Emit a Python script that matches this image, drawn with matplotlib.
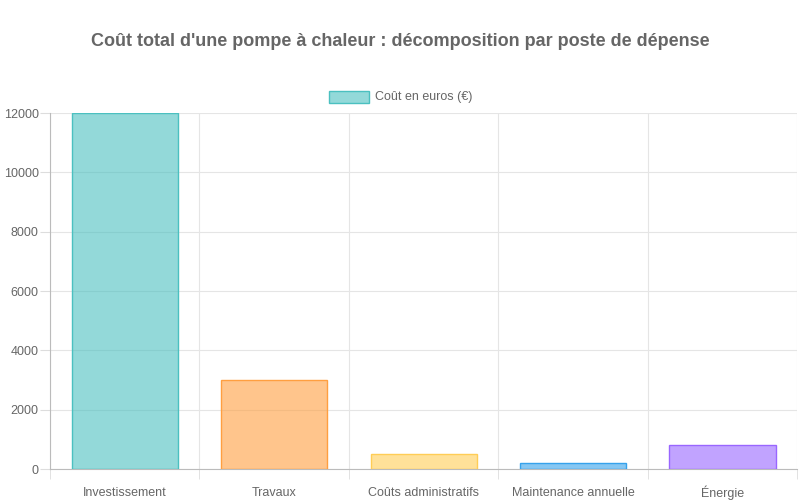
import matplotlib
matplotlib.use("Agg")
import matplotlib.pyplot as plt

categories = ["Investissement", "Travaux", "Coûts administratifs", "Maintenance annuelle", "Énergie"]
values = [12000, 3000, 500, 200, 800]
fills = [(75/255,192/255,192/255,0.6),(255/255,159/255,64/255,0.6),(255/255,205/255,86/255,0.6),(54/255,162/255,235/255,0.6),(153/255,102/255,255/255,0.6)]
edges = [(75/255,192/255,192/255),(255/255,159/255,64/255),(255/255,205/255,86/255),(54/255,162/255,235/255),(153/255,102/255,255/255)]

plt.rcParams['font.family'] = ['Liberation Sans', 'DejaVu Sans']
fig = plt.figure(figsize=(8, 5), dpi=100)
ax = fig.add_axes([0.0625, 0.062, 0.934, 0.712])
x = list(range(len(categories)))
ax.bar(x, values, width=0.71, color=fills, edgecolor=edges, linewidth=1.0, zorder=3)
ax.set_xlim(-0.5, len(categories) - 0.5)
ax.set_ylim(0, 12000)
ax.set_yticks(range(0, 12001, 2000))
ax.set_xticks(x)
ax.set_xticklabels(categories)
for lbl in ax.get_xticklabels():
    lbl.set_verticalalignment('center')
ax.set_xticks([i - 0.5 for i in range(len(categories) + 1)], minor=True)
ax.tick_params(axis='x', which='major', length=0, pad=17, labelsize=9, labelcolor='#666666')
ax.tick_params(axis='x', which='minor', length=7.2, color='#dddddd')
ax.tick_params(axis='y', length=7.2, color='#dddddd', labelsize=9, labelcolor='#666666', pad=1)
ax.grid(True, axis='y', color='#e5e5e5', linewidth=0.8, zorder=0)
ax.grid(True, axis='x', which='minor', color='#e5e5e5', linewidth=0.8, zorder=0)
for s in ['top', 'right']:
    ax.spines[s].set_visible(False)
ax.spines['left'].set_color('#bbbbbb')
ax.spines['bottom'].set_color('#bbbbbb')

fig.text(0.5, 0.918, "Coût total d'une pompe à chaleur : décomposition par poste de dépense",
         ha='center', va='center', fontsize=13, fontweight='bold', color='#666666')
fig.patches.append(plt.Rectangle((329/800, 1-103/500), 40/800, 12/500, transform=fig.transFigure,
                                 facecolor=fills[0], edgecolor=edges[0], linewidth=1))
fig.text(375/800, 1-97/500, "Coût en euros (€)", ha='left', va='center', fontsize=9, color='#666666')
fig.savefig("out.png", dpi=100)
